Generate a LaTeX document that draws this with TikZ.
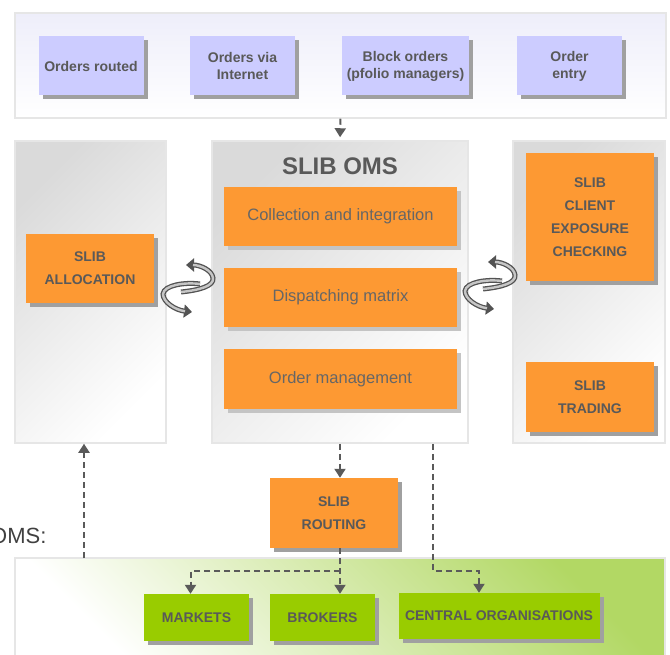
\documentclass[tikz,border=0pt]{standalone}
\usepackage{fontspec}
\setmainfont{Liberation Sans}
\definecolor{sllavender}{RGB}{204,204,255}
\definecolor{sllavenderpale}{RGB}{238,238,250}
\definecolor{slorange}{RGB}{253,153,51}
\definecolor{slgreen}{RGB}{153,204,0}
\definecolor{slgreenpale}{RGB}{178,216,100}
\definecolor{sltext}{RGB}{89,89,89}
\definecolor{slsoft}{RGB}{102,102,102}
\definecolor{sldark}{RGB}{64,64,64}
\definecolor{slarrow}{RGB}{90,90,90}
\definecolor{slpanel}{RGB}{218,218,218}
\definecolor{slborder}{RGB}{230,230,230}
\definecolor{slshadow}{RGB}{160,160,160}
\definecolor{slshadowlight}{RGB}{196,196,196}
\usetikzlibrary{arrows.meta,positioning,shadows,calc}

\begin{document}
\begin{tikzpicture}[x=1pt,y=-1pt,
  panel/.style={draw=slborder,line width=1.5pt,inner sep=0pt,top color=slpanel,bottom color=white,shading angle=45},
  srcbox/.style={fill=sllavender,text=sltext,font=\fontsize{14}{17}\selectfont\bfseries,align=center,inner sep=0pt,
    minimum width=105pt,minimum height=59pt,general shadow={fill=slshadow,shadow xshift=4pt,shadow yshift=-4pt}},
  slibbox/.style={fill=slorange,text=sltext,font=\fontsize{14}{23}\selectfont\bfseries,align=center,inner sep=0pt,
    minimum width=128pt,minimum height=70pt,general shadow={fill=slshadow,shadow xshift=4pt,shadow yshift=-4pt}},
  stagebox/.style={fill=slorange,text=slsoft,font=\fontsize{16.5}{20}\selectfont,inner sep=0pt,
    minimum width=233pt,minimum height=59pt,general shadow={fill=slshadowlight,shadow xshift=4pt,shadow yshift=-4pt}},
  destbox/.style={fill=slgreen,text=sltext,font=\fontsize{14}{17}\selectfont\bfseries,inner sep=0pt,
    minimum width=105pt,minimum height=47pt,general shadow={fill=slshadow,shadow xshift=4pt,shadow yshift=-4pt}},
  flow/.style={draw=slarrow,line width=2pt,dash pattern=on 6pt off 4pt,-{Triangle[length=9pt,width=11pt]}},
  swirlback/.style={draw=gray!65!black,line width=5pt,-{Triangle[length=8pt,width=13pt]}},
  swirlfront/.style={draw=gray!45,line width=2.4pt,shorten >=7pt}]
  \useasboundingbox (0,0) rectangle (670,655);
  % panels
  \node[panel,top color=sllavenderpale,bottom color=white,minimum width=651pt,minimum height=105pt] (top) at (340.5,65.5) {};
  \node[panel,minimum width=151pt,minimum height=302pt] (leftp) at (90.5,292) {};
  \node[panel,minimum width=256pt,minimum height=302pt] (oms) at (340,292) {};
  \node[panel,minimum width=152pt,minimum height=302pt] (rightp) at (589,292) {};
  \node[panel,top color=slgreenpale,bottom color=white,shading angle=-45,minimum width=650pt,minimum height=100pt] (green) at (340,608) {};
  % order sources
  \node[srcbox] (routed) at (91,66) {Orders routed};
  \node[srcbox] (internet) at (242.5,66) {Orders via\\Internet};
  \node[srcbox,minimum width=127pt] (block) at (405.5,66) {Block orders\\(pfolio managers)};
  \node[srcbox] (entry) at (569.5,66) {Order\\entry};
  % SLIB modules
  \node[font=\fontsize{24}{28}\selectfont\bfseries,text=sltext] (omstitle) at (340,166) {SLIB OMS};
  \node[stagebox] (collect) at (340.5,216.5) {Collection and integration};
  \node[stagebox] (dispatch) at (340.5,297.5) {Dispatching matrix};
  \node[stagebox] (ordermgmt) at (340.5,379) {Order management};
  \node[slibbox,minimum height=69pt] (alloc) at (90,268.5) {SLIB\\ALLOCATION};
  \node[slibbox,minimum height=128pt] (exposure) at (590,217) {SLIB\\CLIENT\\EXPOSURE\\CHECKING};
  \node[slibbox] (trading) at (590,397) {SLIB\\TRADING};
  \node[slibbox] (routing) at (334,513) {SLIB\\ROUTING};
  \node[anchor=base east,font=\fontsize{22}{26}\selectfont,text=sldark] (omslabel) at (50,543) {OMS:};
  % destinations
  \node[destbox] (markets) at (196.5,617.5) {MARKETS};
  \node[destbox] (brokers) at (322.5,617.5) {BROKERS};
  \node[destbox,minimum width=201pt,minimum height=46pt] (central) at (499,616) {CENTRAL ORGANISATIONS};
  % flows
  \coordinate (split) at (340,571);
  \coordinate (back) at (84,558);
  \draw[flow,shorten >=3pt] (top.south) -- (oms.north);
  \draw[flow] (oms.south) -- (oms.south |- routing.north);
  \draw[flow] (routing.south -| split) -- (split |- brokers.north);
  \draw[flow] (split) -| ([xshift=-6pt]markets.north);
  \draw[flow] ([xshift=93pt]oms.south) |- ([xshift=-20pt]central.north |- split) -- ([xshift=-20pt]central.north);
  \draw[flow] (back) -- (back |- leftp.south);
  % exchange icons
  \foreach \dx/\dy in {0/0,302/-3}{
    \begin{scope}[shift={(\dx,\dy)}]
      \draw[swirlback] (181,292) .. controls (200,290) and (214,286) .. (213,278) .. controls (212,270) and (200,265) .. (186,265);
      \draw[swirlfront] (181,292) .. controls (200,290) and (214,286) .. (213,278) .. controls (212,270) and (200,265) .. (186,265);
      \draw[swirlback] (200,284) .. controls (185,282) and (164,285) .. (163,294) .. controls (163,302) and (175,310) .. (192,312);
      \draw[swirlfront] (200,284) .. controls (185,282) and (164,285) .. (163,294) .. controls (163,302) and (175,310) .. (192,312);
    \end{scope}
  }
\end{tikzpicture}
\end{document}
